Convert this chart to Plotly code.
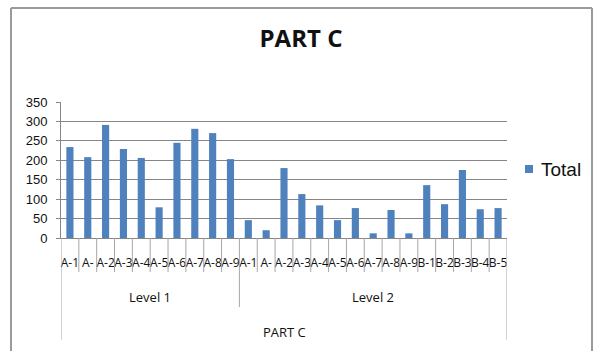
import plotly.graph_objects as go

# Sub-category labels (as displayed) and their values
level1_labels = ["A-1", "A-", "A-2", "A-3", "A-4", "A-5", "A-6", "A-7", "A-8", "A-9"]
level1_values = [234, 208, 291, 229, 206, 79, 245, 281, 270, 203]

level2_labels = ["A-1", "A-", "A-2", "A-3", "A-4", "A-5", "A-6", "A-7", "A-8", "A-9",
                 "B-1", "B-2", "B-3", "B-4", "B-5"]
level2_values = [46, 20, 180, 113, 84, 46, 77, 12, 72, 12, 136, 87, 175, 74, 77]

group_names = ["Level 1", "Level 2"]
top_group = "PART C"
series_name = "Total"
y_ticks = [0, 50, 100, 150, 200, 250, 300, 350]

labels = level1_labels + level2_labels
values = level1_values + level2_values
xs = list(range(len(labels)))

BAR = "#4F81BD"
GRID = "#868686"
W, H = 596, 351
ML, MR, MT, MB = 61, 89, 102, 113
PW = W - ML - MR
PH = H - MT - MB


def px_x(p):
    return (p - ML) / PW


def px_y(p):
    return (H - MB - p) / PH


fig = go.Figure()
fig.add_trace(go.Bar(x=xs, y=values, marker=dict(color=BAR, line=dict(width=0)),
                     name=series_name, showlegend=False))

shapes = []
n = len(labels)
# category separators below the axis
for i in range(n + 1):
    b = i - 0.5
    if i == 0 or i == n:
        y1 = px_y(340)
    elif i == len(level1_labels):
        y1 = px_y(307)
    else:
        y1 = px_y(272)
    shapes.append(dict(type="line", xref="x", yref="paper", x0=b, x1=b, y0=0, y1=y1,
                       line=dict(color="#A6A6A6", width=1)))

# chart frame
frame = dict(color="#9A9A9A", width=2)
shapes.append(dict(type="line", xref="paper", yref="paper", x0=px_x(11), x1=px_x(592),
                   y0=px_y(8), y1=px_y(8), line=frame))
shapes.append(dict(type="line", xref="paper", yref="paper", x0=px_x(11), x1=px_x(11),
                   y0=px_y(8), y1=px_y(360), line=frame))
shapes.append(dict(type="line", xref="paper", yref="paper", x0=px_x(592), x1=px_x(592),
                   y0=px_y(8), y1=px_y(360), line=frame))
# legend key
shapes.append(dict(type="rect", xref="paper", yref="paper", x0=px_x(525), x1=px_x(533),
                   y0=px_y(173), y1=px_y(165), fillcolor=BAR, line=dict(width=0)))

label_font = dict(family="Open Sans, Arial", size=13, color="#111")
annotations = [
    dict(text=group_names[0], x=(len(level1_labels) - 1) / 2, xref="x", y=px_y(297),
         yref="paper", showarrow=False, font=label_font, yanchor="middle"),
    dict(text=group_names[1], x=len(level1_labels) - 0.5 + len(level2_labels) / 2, xref="x",
         y=px_y(297), yref="paper", showarrow=False, font=label_font, yanchor="middle"),
    dict(text=top_group, x=(n - 1) / 2, xref="x", y=px_y(332), yref="paper",
         showarrow=False, font=label_font, yanchor="middle"),
    dict(text=series_name, x=px_x(539), xref="paper", y=px_y(169), yref="paper",
         showarrow=False, xanchor="left", yanchor="middle",
         font=dict(family="Liberation Sans, Arial", size=19, color="#111")),
]

fig.update_layout(
    width=W, height=H,
    margin=dict(l=ML, r=MR, t=MT, b=MB),
    paper_bgcolor="white", plot_bgcolor="white",
    bargap=0.6,
    showlegend=False,
    title=dict(text="<b>PART C</b>", x=301 / W, xanchor="center",
               y=1 - 39 / H, yanchor="middle", yref="container",
               font=dict(family="Open Sans, Arial", size=24, color="#111")),
    xaxis=dict(range=[-0.5, n - 0.5], tickmode="array", tickvals=xs, ticktext=labels,
               tickangle=0,
               ticks="outside", ticklen=14, tickcolor="rgba(0,0,0,0)",
               tickfont=dict(family="Open Sans, Arial", size=12, color="#111"),
               showgrid=False, showline=True, linecolor=GRID, linewidth=1,
               zeroline=False, fixedrange=True),
    yaxis=dict(range=[0, 350], tickmode="array", tickvals=y_ticks,
               ticks="outside", ticklen=4, tickcolor=GRID, ticklabelstandoff=6,
               tickfont=dict(family="Liberation Sans, Arial", size=13, color="#111"),
               showgrid=True, gridcolor=GRID, gridwidth=1,
               showline=True, linecolor=GRID, linewidth=1, zeroline=False),
    shapes=shapes,
    annotations=annotations,
)

fig.write_html("out.html")
